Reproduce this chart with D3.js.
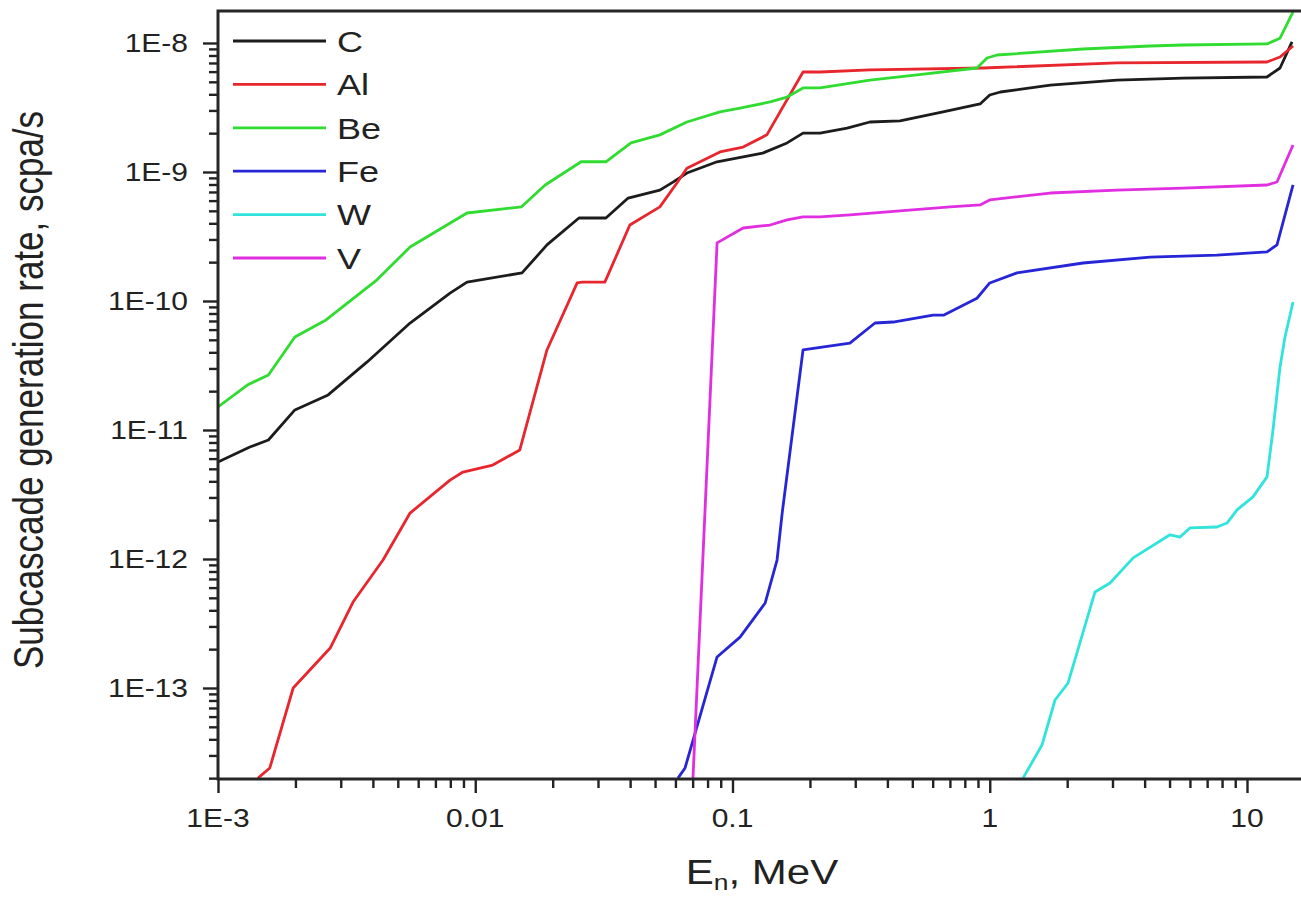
<!DOCTYPE html>
<html>
<head>
<meta charset="utf-8">
<script src="https://cdn.jsdelivr.net/npm/d3@7"></script>
<style>
  html, body { margin: 0; padding: 0; background: #fff; }
  svg { display: block; font-family: "Liberation Sans", Arial, sans-serif; }
</style>
</head>
<body>
<svg id="chart" width="1301" height="897"></svg>
<script>
// Subcascade generation rate vs neutron energy (log-log)
const seriesNames = ["C", "Al", "Be", "Fe", "W", "V"];
const seriesColors = ["#1c1c1c", "#e8262e", "#30dc30", "#2626d6", "#30e4dc", "#e02ee0"];

// energies in MeV, rates in scpa/s
const cEnergy = [0.001, 0.00133, 0.00157, 0.00199, 0.00268, 0.0038, 0.00558, 0.00798, 0.00929, 0.0152, 0.019, 0.0253, 0.0322, 0.0393, 0.0522, 0.0587, 0.0665, 0.0871, 0.131, 0.163, 0.188, 0.219, 0.279, 0.342, 0.448, 0.658, 0.917, 1.0, 1.1, 1.72, 3.12, 5.64, 11.96, 13.44, 14.96];
const cRate = [5.65e-12, 7.38e-12, 8.36e-12, 1.43e-11, 1.87e-11, 3.37e-11, 6.75e-11, 1.15e-10, 1.40e-10, 1.65e-10, 2.72e-10, 4.40e-10, 4.40e-10, 6.28e-10, 7.24e-10, 8.35e-10, 9.81e-10, 1.20e-9, 1.40e-9, 1.68e-9, 2.0e-9, 2.0e-9, 2.19e-9, 2.44e-9, 2.49e-9, 2.92e-9, 3.37e-9, 3.95e-9, 4.17e-9, 4.72e-9, 5.16e-9, 5.35e-9, 5.45e-9, 6.4e-9, 1.02e-8];

const alEnergy = [0.00143, 0.00159, 0.00196, 0.00273, 0.00335, 0.00438, 0.00558, 0.00798, 0.00896, 0.0117, 0.0149, 0.019, 0.0249, 0.026, 0.0319, 0.0399, 0.0522, 0.0608, 0.0665, 0.0894, 0.11, 0.136, 0.188, 0.219, 0.342, 0.942, 3.12, 11.96, 13.44, 15.1];
const alRate = [2e-14, 2.4e-14, 1.0e-13, 2.04e-13, 4.64e-13, 9.82e-13, 2.27e-12, 4.09e-12, 4.72e-12, 5.35e-12, 7.0e-12, 4.17e-11, 1.38e-10, 1.40e-10, 1.40e-10, 3.88e-10, 5.36e-10, 8.22e-10, 1.07e-9, 1.43e-9, 1.56e-9, 1.94e-9, 5.96e-9, 5.96e-9, 6.18e-9, 6.4e-9, 7.0e-9, 7.12e-9, 7.78e-9, 9.48e-9];

const beEnergy = [0.001, 0.0013, 0.00157, 0.00199, 0.00263, 0.00415, 0.00558, 0.00929, 0.0151, 0.0187, 0.0258, 0.0322, 0.0403, 0.0522, 0.0665, 0.0894, 0.107, 0.14, 0.163, 0.188, 0.219, 0.342, 0.522, 0.892, 0.976, 1.067, 2.305, 4.2, 5.64, 11.96, 13.44, 15.1];
const beRate = [1.51e-11, 2.23e-11, 2.67e-11, 5.26e-11, 7.13e-11, 1.46e-10, 2.62e-10, 4.81e-10, 5.36e-10, 7.93e-10, 1.2e-9, 1.2e-9, 1.68e-9, 1.94e-9, 2.44e-9, 2.92e-9, 3.13e-9, 3.49e-9, 3.81e-9, 4.48e-9, 4.48e-9, 5.16e-9, 5.65e-9, 6.4e-9, 7.65e-9, 8.07e-9, 8.98e-9, 9.48e-9, 9.65e-9, 9.83e-9, 1.09e-8, 1.74e-8];

const feEnergy = [0.0614, 0.0654, 0.0871, 0.107, 0.134, 0.149, 0.156, 0.188, 0.286, 0.358, 0.421, 0.602, 0.664, 0.892, 1.0, 1.276, 2.305, 4.2, 7.64, 11.96, 13.08, 15.1];
const feRate = [2e-14, 2.4e-14, 1.74e-13, 2.48e-13, 4.56e-13, 9.82e-13, 2.27e-12, 4.17e-11, 4.72e-11, 6.75e-11, 6.87e-11, 7.78e-11, 7.78e-11, 1.05e-10, 1.38e-10, 1.65e-10, 1.97e-10, 2.19e-10, 2.27e-10, 2.4e-10, 2.72e-10, 7.93e-10];

const wEnergy = [1.347, 1.596, 1.794, 2.015, 2.565, 2.935, 3.61, 5.02, 5.49, 6.0, 7.64, 8.36, 9.15, 10.55, 11.96, 12.62, 13.44, 14.05, 15.1];
const wRate = [2e-14, 3.61e-14, 8.07e-14, 1.09e-13, 5.55e-13, 6.52e-13, 1.02e-12, 1.54e-12, 1.48e-12, 1.74e-12, 1.77e-12, 1.9e-12, 2.4e-12, 3.03e-12, 4.33e-12, 1.0e-11, 3.08e-11, 5.26e-11, 9.82e-11];

const vEnergy = [0.0702, 0.0871, 0.11, 0.14, 0.163, 0.188, 0.219, 0.286, 0.701, 0.917, 1.0, 1.715, 3.12, 5.64, 11.96, 13.08, 15.1];
const vRate = [2e-14, 2.82e-10, 3.68e-10, 3.88e-10, 4.25e-10, 4.48e-10, 4.48e-10, 4.65e-10, 5.36e-10, 5.55e-10, 6.07e-10, 6.87e-10, 7.24e-10, 7.51e-10, 7.93e-10, 8.36e-10, 1.62e-9];

const xTicks = [0.001, 0.01, 0.1, 1, 10];
const xTickLabels = ["1E-3", "0.01", "0.1", "1", "10"];
const yTicks = [1e-13, 1e-12, 1e-11, 1e-10, 1e-9, 1e-8];
const yTickLabels = ["1E-13", "1E-12", "1E-11", "1E-10", "1E-9", "1E-8"];

const energies = [cEnergy, alEnergy, beEnergy, feEnergy, wEnergy, vEnergy];
const rates = [cRate, alRate, beRate, feRate, wRate, vRate];

// layout
const plot = { left: 218, top: 11, bottom: 779 };
const xDecade = 257.25;
const xMin = 0.001, xMax = 16.3;
const yMin = 1.97e-14, yMax = 1.77e-8;
const stretch = 1.2; // text in the reference is a bit wide

const svg = d3.select('#chart');

const x = d3.scaleLog()
    .domain([xMin, xMax])
    .range([plot.left, plot.left + xDecade * Math.log10(xMax / xMin)]);
const y = d3.scaleLog()
    .domain([yMin, yMax])
    .range([plot.bottom, plot.top]);

const plotRight = x(xMax);

// minor ticks 2..9 of each decade
function minorTicks(lo, hi) {
    const out = [];
    for (let e = Math.floor(Math.log10(lo)); e <= Math.ceil(Math.log10(hi)); e++) {
        for (let m = 2; m <= 9; m++) {
            const v = m * Math.pow(10, e);
            if (v >= lo && v <= hi) out.push(v);
        }
    }
    return out;
}

svg.append('defs').append('clipPath').attr('id', 'clip')
    .append('rect')
    .attr('x', plot.left).attr('y', plot.top)
    .attr('width', plotRight - plot.left)
    .attr('height', plot.bottom - plot.top);

// curves
const line = d3.line()
    .x(d => x(d[0]))
    .y(d => y(d[1]));

const curves = svg.append('g').attr('clip-path', 'url(#clip)');
seriesNames.forEach((name, i) => {
    const pts = energies[i].map((e, k) => [e, rates[i][k]]);
    curves.append('path')
        .datum(pts)
        .attr('fill', 'none')
        .attr('stroke', seriesColors[i])
        .attr('stroke-width', 2.8)
        .attr('stroke-linejoin', 'round')
        .attr('d', line);
});

// axes
function styleAxis(g) {
    g.select('.domain').remove();
    g.selectAll('line').attr('stroke', '#222').attr('stroke-width', 2.4);
    g.selectAll('text').remove();
}

svg.append('g')
    .attr('transform', `translate(${plot.left},0)`)
    .call(d3.axisLeft(y).tickValues(yTicks).tickSize(15).tickFormat(''))
    .call(styleAxis);
svg.append('g')
    .attr('transform', `translate(${plot.left},0)`)
    .call(d3.axisLeft(y).tickValues(minorTicks(yMin, yMax)).tickSize(9).tickFormat(''))
    .call(styleAxis);
svg.append('g')
    .attr('transform', `translate(0,${plot.bottom})`)
    .call(d3.axisBottom(x).tickValues(xTicks).tickSize(14).tickFormat(''))
    .call(styleAxis);
svg.append('g')
    .attr('transform', `translate(0,${plot.bottom})`)
    .call(d3.axisBottom(x).tickValues(minorTicks(xMin, xMax)).tickSize(9).tickFormat(''))
    .call(styleAxis);

// frame
svg.append('path')
    .attr('d', `M${plotRight + 2},${plot.top}H${plot.left}V${plot.bottom}H${plotRight + 2}`)
    .attr('fill', 'none')
    .attr('stroke', '#262626')
    .attr('stroke-width', 3);

// tick labels
svg.append('g').selectAll('g')
    .data(yTicks)
    .join('g')
    .attr('transform', d => `translate(188,${y(d)}) scale(${stretch},1)`)
    .append('text')
    .attr('text-anchor', 'end')
    .attr('dy', '0.36em')
    .attr('font-size', 25)
    .attr('fill', '#222')
    .text((d, i) => yTickLabels[i]);

svg.append('g').selectAll('g')
    .data(xTicks)
    .join('g')
    .attr('transform', d => `translate(${x(d)},827) scale(${stretch},1)`)
    .append('text')
    .attr('text-anchor', 'middle')
    .attr('font-size', 25)
    .attr('fill', '#222')
    .text((d, i) => xTickLabels[i]);

// axis titles
const xTitle = svg.append('g')
    .attr('transform', `translate(762,884) scale(${stretch},1)`)
    .append('text')
    .attr('text-anchor', 'middle')
    .attr('font-size', 35)
    .attr('fill', '#222');
xTitle.append('tspan').text('E');
xTitle.append('tspan').attr('font-size', 22).attr('dy', 6).text('n');
xTitle.append('tspan').attr('dy', -6).text(', MeV');

svg.append('g')
    .attr('transform', `translate(43,390) rotate(-90) scale(1,${stretch})`)
    .append('text')
    .attr('text-anchor', 'middle')
    .attr('font-size', 35)
    .attr('fill', '#222')
    .text('Subcascade generation rate, scpa/s');

// legend
const legend = svg.append('g').selectAll('g')
    .data(seriesNames)
    .join('g')
    .attr('transform', (d, i) => `translate(0,${41 + i * 43.4})`);
legend.append('line')
    .attr('x1', 233).attr('x2', 326)
    .attr('stroke', (d, i) => seriesColors[i])
    .attr('stroke-width', 2.8);
legend.append('g')
    .attr('transform', `translate(337,0) scale(${stretch},1)`)
    .append('text')
    .attr('dy', '0.36em')
    .attr('font-size', 30)
    .attr('fill', '#222')
    .text(d => d);
</script>
</body>
</html>
